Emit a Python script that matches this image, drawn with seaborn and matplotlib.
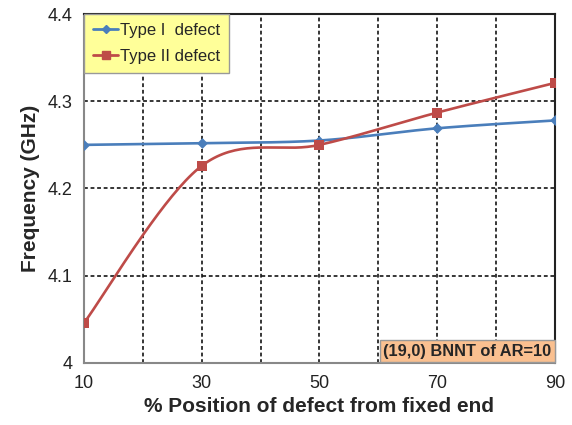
import numpy as np
import pandas as pd
import matplotlib
matplotlib.use("Agg")
import matplotlib.pyplot as plt
import seaborn as sns
from matplotlib.lines import Line2D

positions = [10, 30, 50, 70, 90]
type1 = [4.250, 4.252, 4.255, 4.269, 4.278]
type2 = [4.046, 4.226, 4.250, 4.287, 4.321]
series_names = ["Type I  defect", "Type II defect"]
x_ticks = [10, 30, 50, 70, 90]
y_ticks = [4.0, 4.1, 4.2, 4.3, 4.4]
y_tick_labels = ["4", "4.1", "4.2", "4.3", "4.4"]
note = "(19,0) BNNT of AR=10"

blue = "#4A7EBB"
red = "#BE4B48"

def smooth(xs, ys, n=40):
    # Catmull-Rom style bezier smoothing (like Excel's smoothed line)
    xs = np.asarray(xs, float); ys = np.asarray(ys, float)
    P = np.column_stack([xs, ys])
    pts = []
    for i in range(len(P) - 1):
        p0 = P[i - 1] if i > 0 else P[i]
        p1 = P[i]; p2 = P[i + 1]
        p3 = P[i + 2] if i + 2 < len(P) else P[i + 1]
        c1 = p1 + (p2 - p0) / 6.0
        c2 = p2 - (p3 - p1) / 6.0
        t = np.linspace(0, 1, n)[:, None]
        seg = ((1 - t) ** 3) * p1 + 3 * ((1 - t) ** 2) * t * c1 + 3 * (1 - t) * t ** 2 * c2 + t ** 3 * p2
        if i > 0:
            seg = seg[1:]
        pts.append(seg)
    return np.vstack(pts)

sns.set_style("white")
plt.rcParams['font.family'] = ['Liberation Sans', 'DejaVu Sans']

fig = plt.figure(figsize=(5.72, 4.25), dpi=100)
ax = fig.add_axes([0.147, 0.146, 0.823, 0.821])

for name, ys, col, mk, ms in [(series_names[0], type1, blue, "D", 5.5), (series_names[1], type2, red, "s", 7)]:
    s = smooth(positions, ys)
    df = pd.DataFrame({"x": s[:, 0], "y": s[:, 1]})
    sns.lineplot(data=df, x="x", y="y", sort=False, color=col, lw=1.9, ax=ax, zorder=3)
    dp = pd.DataFrame({"x": positions, "y": ys})
    sns.scatterplot(data=dp, x="x", y="y", color=col, marker=mk, s=ms ** 2, edgecolor=col, linewidth=0, ax=ax, zorder=4)

ax.set_xlim(10, 90)
ax.set_ylim(4.0, 4.4)
ax.set_xticks(x_ticks)
ax.set_xticks([20, 40, 60, 80], minor=True)
ax.set_yticks(y_ticks)
ax.set_yticklabels(y_tick_labels)
ax.tick_params(axis="both", labelsize=13, colors="#222222", length=4, color="#888888", direction="out")
ax.tick_params(axis="x", which="minor", length=0)
ax.tick_params(axis="x", pad=5)
ax.tick_params(axis="y", pad=4)
ax.grid(True, which="both", axis="x", color="black", linestyle=(0, (2.5, 1.8)), lw=1.1)
ax.grid(True, which="major", axis="y", color="black", linestyle=(0, (2.5, 1.8)), lw=1.1)
ax.set_axisbelow(True)

for sp in ["left", "bottom"]:
    ax.spines[sp].set_color("#888888")
    ax.spines[sp].set_linewidth(1.5)
for sp in ["top", "right"]:
    ax.spines[sp].set_color("#222222")
    ax.spines[sp].set_linewidth(1.5)

ax.set_xlabel("% Position of defect from fixed end", fontsize=15, fontweight="bold", labelpad=3)
ax.set_ylabel("Frequency (GHz)", fontsize=15, fontweight="bold", labelpad=6)

handles = [
    Line2D([0], [0], color=blue, lw=2, marker="D", markersize=4.5),
    Line2D([0], [0], color=red, lw=2, marker="s", markersize=6),
]
leg = ax.legend(handles, series_names, loc="upper left", bbox_to_anchor=(0.0, 1.0),
                frameon=True, fancybox=False, fontsize=12, handlelength=1.5,
                handletextpad=0.1, borderpad=0.55, labelspacing=0.65, borderaxespad=0)
leg.get_frame().set_facecolor("#FFFF99")
leg.get_frame().set_edgecolor("#999999")
leg.get_frame().set_alpha(1)
leg.set_zorder(6)

ax.text(0.993, 0.012, note, transform=ax.transAxes, ha="right", va="bottom",
        fontsize=11.8, fontweight="bold", zorder=6,
        bbox=dict(boxstyle="square,pad=0.22", facecolor="#FAC090", edgecolor="#999999", lw=1))

fig.savefig("out.png", dpi=100)
